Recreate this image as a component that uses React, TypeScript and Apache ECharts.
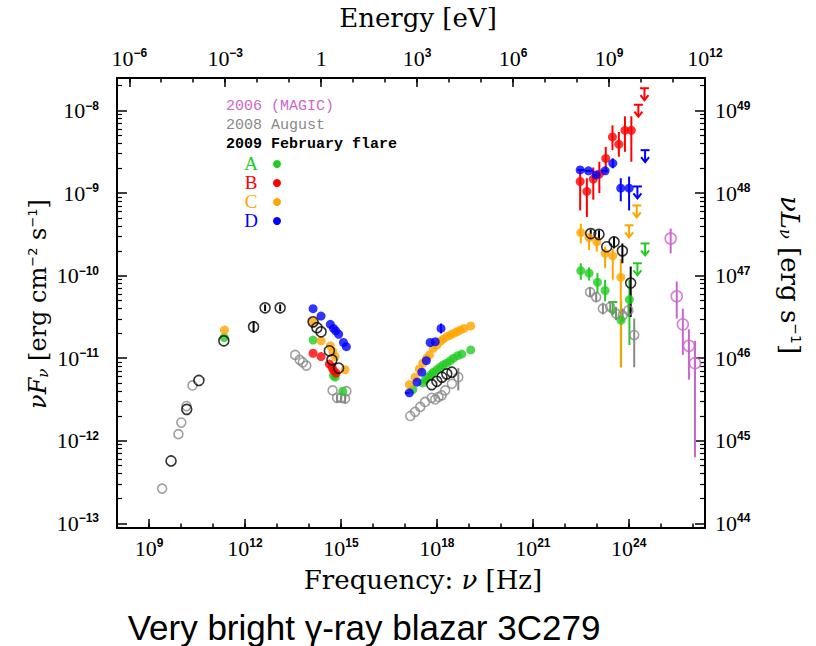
import React, { useEffect, useRef } from 'react';
import * as echarts from 'echarts';

// All values are log10: [log10 ν (Hz), log10 νFν (erg cm^-2 s^-1)]
// Error bars: [log10 ν, log10 upper, log10 lower]; upper limits: [log10 ν, log10 limit]

// 2008 August (gray, open circles)
const augustPts = [
  [9.41, -12.58], [9.92, -11.92], [10.01, -11.78], [10.17, -11.58], [10.36, -11.33],
  [13.57, -10.96], [13.71, -11.02], [13.81, -11.05], [13.92, -11.09],
  [14.74, -11.39], [14.88, -11.48], [15.01, -11.48], [15.13, -11.49], [15.17, -11.40],
  [17.17, -11.7], [17.32, -11.65], [17.48, -11.59], [17.63, -11.53], [17.84, -11.48],
  [17.95, -11.5], [18.05, -11.47], [18.15, -11.45], [18.26, -11.39], [18.47, -11.31], [18.67, -11.23],
  [22.79, -10.2], [22.98, -10.26], [23.19, -10.4], [23.42, -10.38], [23.6, -10.46],
  [23.81, -10.48], [23.99, -10.42], [24.17, -10.72],
];
const augustErr = [
  [14.88, -11.44, -11.54], [15.01, -11.43, -11.54], [15.13, -11.44, -11.55],
  [18.67, -11.12, -11.39],
  [22.79, -10.14, -10.26], [22.98, -10.2, -10.32], [23.19, -10.33, -10.47], [23.42, -10.31, -10.45],
  [23.6, -10.38, -10.54], [23.81, -10.4, -10.56], [23.99, -10.34, -10.5], [24.17, -10.52, -11.11],
];

// 2009 February flare (black, open circles)
const flarePts = [
  [9.69, -12.245], [10.18, -11.62], [10.56, -11.27], [11.34, -10.79], [12.27, -10.62], [12.63, -10.39], [13.1, -10.39],
  [14.13, -10.56], [14.25, -10.63], [14.38, -10.68], [14.64, -10.91], [14.72, -11.02], [14.93, -11.12],
  [17.84, -11.32], [18.0, -11.28], [18.16, -11.23], [18.31, -11.19], [18.47, -11.17],
  [22.81, -9.49], [23.07, -9.5], [23.31, -9.65], [23.54, -9.59], [23.8, -9.7], [24.06, -10.09],
];
const flareErr = [
  [12.27, -10.55, -10.69], [12.63, -10.35, -10.43], [13.1, -10.35, -10.43],
  [22.81, -9.44, -9.55], [23.07, -9.45, -9.56], [23.54, -9.53, -9.67], [23.8, -9.61, -9.85], [24.06, -9.89, -10.5],
];

// State A (green, filled)
const aPts = [
  [11.35, -10.75],
  [14.13, -10.78], [14.77, -11.21], [14.82, -11.23], [15.06, -11.4],
  [17.25, -11.38], [17.56, -11.3], [17.65, -11.26], [17.74, -11.23], [17.82, -11.2], [17.89, -11.17],
  [18.0, -11.14], [18.1, -11.11], [18.2, -11.08], [18.31, -11.06], [18.42, -11.03], [18.52, -11.0],
  [18.65, -10.97], [18.78, -10.95], [19.06, -10.9],
  [22.5, -9.94], [22.76, -9.97], [23.02, -10.08], [23.26, -10.18], [23.76, -10.54], [24.02, -10.29],
];
const aErr = [
  [22.5, -9.85, -10.05], [22.76, -9.9, -10.06], [23.02, -9.97, -10.21], [23.26, -10.05, -10.31],
  [23.76, -10.3, -11.11], [24.02, -10.05, -10.84],
];
const aUL = [[24.51, -9.61], [24.27, -9.85], [23.5, -10.32]];

// State B (red, filled)
const bPts = [
  [14.13, -10.94], [14.38, -10.98], [14.64, -11.07], [14.72, -11.11], [14.77, -11.15], [14.85, -11.18],
  [22.48, -8.86], [22.69, -8.98], [22.89, -8.83], [23.08, -8.77], [23.28, -8.58], [23.49, -8.32],
  [23.69, -8.41], [23.88, -8.24], [24.08, -8.24],
];
const bErr = [
  [22.48, -8.72, -9.21], [22.69, -8.82, -9.29], [22.89, -8.69, -9.08], [23.08, -8.62, -9.0],
  [23.28, -8.44, -8.76], [23.49, -8.18, -8.48], [23.69, -8.26, -8.56], [23.88, -8.07, -8.5], [24.08, -8.07, -8.62],
];
const bUL = [[24.3, -7.93], [24.49, -7.73]];

// State C (orange, filled)
const cPts = [
  [11.36, -10.66],
  [14.13, -10.56], [14.38, -10.79], [14.67, -10.85], [14.75, -10.92], [14.82, -10.98], [15.13, -11.14],
  [17.14, -11.32], [17.32, -11.23], [17.45, -11.13], [17.56, -11.06], [17.68, -11.0], [17.77, -10.96],
  [17.89, -10.88], [18.0, -10.84], [18.1, -10.8], [18.2, -10.77], [18.31, -10.74], [18.42, -10.72],
  [18.52, -10.7], [18.63, -10.68], [18.73, -10.66], [18.85, -10.64], [19.06, -10.61],
  [22.5, -9.48], [22.76, -9.54], [23.0, -9.59], [23.26, -9.73], [23.5, -9.76], [23.75, -10.02],
];
const cErr = [
  [22.5, -9.37, -9.61], [22.76, -9.49, -9.69], [23.0, -9.53, -9.71], [23.26, -9.65, -9.91],
  [23.5, -9.67, -10.05], [23.75, -9.8, -11.11],
];
const cUL = [[24.25, -9.15], [24.01, -9.39]];

// State D (blue, filled)
const dPts = [
  [14.13, -10.4], [14.38, -10.49], [14.67, -10.59], [14.77, -10.64], [14.84, -10.67], [14.93, -10.71],
  [15.08, -10.81], [15.17, -10.86],
  [17.14, -11.42], [17.38, -11.29], [17.53, -11.17], [17.67, -11.03], [17.79, -10.81], [17.95, -10.8], [18.13, -10.64],
  [22.48, -8.72], [22.74, -8.73], [22.98, -8.78], [23.26, -8.73], [23.5, -8.64], [23.75, -8.94], [24.01, -8.94],
];
const dErr = [[18.13, -10.58, -10.7], [23.5, -8.58, -8.7], [23.75, -8.82, -9.1], [24.01, -8.8, -9.21]];
// horizontal bars: [log10 ν low, log10 ν high, log10 νFν]
const dXErr = [[22.4, 22.6, -8.72], [22.62, 22.86, -8.73], [22.9, 23.1, -8.78], [23.14, 23.34, -8.73], [17.0, 17.14, -11.42]];
const dUL = [[24.27, -8.92], [24.51, -8.48]];

// 2006 MAGIC (violet, open circles)
const magicPts = [[25.31, -9.55], [25.5, -10.25], [25.69, -10.59], [25.88, -10.85], [26.07, -11.06]];
const magicErr = [
  [25.31, -9.43, -9.73], [25.5, -10.07, -10.52], [25.69, -10.4, -10.96], [25.88, -10.65, -11.26], [26.07, -10.79, -12.2],
];

// Axis ranges (log10) and ticks
const X_MIN = 8;
const X_MAX = 26.383;
const Y_MIN = -13.057;
const Y_MAX = -7.606;
const EV_OFFSET = 14.383; // log10(1 eV / h)
const LUM_OFFSET = 57; // log10(νLν / νFν)
const freqMajor = [9, 12, 15, 18, 21, 24];
const freqMinor = [9, 10, 11, 12, 13, 14, 15, 16, 17, 18, 19, 20, 21, 22, 23, 24, 25, 26];
const energyMajor = [-6, -3, 0, 3, 6, 9, 12];
const energyMinor = [-6, -5, -4, -3, -2, -1, 0, 1, 2, 3, 4, 5, 6, 7, 8, 9, 10, 11, 12];
const fluxMajor = [-13, -12, -11, -10, -9, -8];
const fluxMinorMult = [2, 3, 4, 5, 6, 7, 8, 9];

const COLORS = {
  magic: '#cc66cc',
  august: '#888888',
  flare: '#000000',
  A: '#22cc22',
  B: '#ff0000',
  C: '#ffa500',
  D: '#0000ff',
};

const fluxMinor: number[] = [];
for (let n = -14; n <= -8; n++) {
  for (const k of fluxMinorMult) {
    const v = n + Math.log10(k);
    if (v > Y_MIN && v < Y_MAX) fluxMinor.push(v);
  }
}

const supStr = (e: number) => (e < 0 ? '\u2212' + -e : String(e));
const powLabel = (e: number) => (e === 0 ? '{b|1}' : `{b|10}{s|${supStr(e)}}`);

const labelRich = {
  b: { fontFamily: 'Liberation Serif', fontSize: 22, color: '#000' },
  s: { fontFamily: 'Liberation Sans', fontWeight: 'bold', fontSize: 12, color: '#000', verticalAlign: 'top' },
};

const titleRich = {
  n: { fontFamily: 'DejaVu Serif', fontSize: 24, fill: '#000' },
  i: { fontFamily: 'DejaVu Serif', fontStyle: 'italic', fontSize: 24, fill: '#000' },
  sub: { fontFamily: 'DejaVu Serif', fontStyle: 'italic', fontSize: 15, fill: '#000', verticalAlign: 'bottom' },
  sup: { fontFamily: 'DejaVu Sans', fontSize: 13, fill: '#000', verticalAlign: 'top' },
};

function App() {
  const ref = useRef<HTMLDivElement>(null);
  useEffect(() => {
    if (!ref.current) return;
    const chart = echarts.init(ref.current, null, { renderer: 'svg' });

    const xBase = (position: string) => ({
      type: 'value',
      position,
      min: X_MIN,
      max: X_MAX,
      splitLine: { show: false },
      axisPointer: { show: false },
    });
    const yBase = (position: string) => ({
      type: 'value',
      position,
      min: Y_MIN,
      max: Y_MAX,
      splitLine: { show: false },
      axisPointer: { show: false },
    });
    const line = { show: true, onZero: false, lineStyle: { color: '#000', width: 2 } };

    const errSeries = (name: string, data: number[][], color: string) => ({
      type: 'custom',
      name,
      silent: true,
      data,
      encode: { x: 0, y: [1, 2] },
      renderItem: (_p: any, api: any) => {
        const a = api.coord([api.value(0), api.value(1)]);
        const b = api.coord([api.value(0), api.value(2)]);
        return {
          type: 'line',
          shape: { x1: a[0], y1: a[1], x2: b[0], y2: b[1] },
          style: { stroke: color, lineWidth: 2 },
        };
      },
      z: 2,
    });
    const xErrSeries = (name: string, data: number[][], color: string) => ({
      type: 'custom',
      name,
      silent: true,
      data,
      encode: { x: [0, 1], y: 2 },
      renderItem: (_p: any, api: any) => {
        const a = api.coord([api.value(0), api.value(2)]);
        const b = api.coord([api.value(1), api.value(2)]);
        return {
          type: 'line',
          shape: { x1: a[0], y1: a[1], x2: b[0], y2: b[1] },
          style: { stroke: color, lineWidth: 2 },
        };
      },
      z: 2,
    });
    const ulSeries = (name: string, data: number[][], color: string) => ({
      type: 'custom',
      name,
      silent: true,
      data,
      encode: { x: 0, y: 1 },
      renderItem: (_p: any, api: any) => {
        const p = api.coord([api.value(0), api.value(1)]);
        const st = { stroke: color, lineWidth: 2, fill: 'none' };
        return {
          type: 'group',
          children: [
            { type: 'line', shape: { x1: p[0] - 4.5, y1: p[1], x2: p[0] + 4.5, y2: p[1] }, style: st },
            { type: 'line', shape: { x1: p[0], y1: p[1], x2: p[0], y2: p[1] + 12 }, style: st },
            {
              type: 'polyline',
              shape: { points: [[p[0] - 4, p[1] + 7], [p[0], p[1] + 12], [p[0] + 4, p[1] + 7]] },
              style: st,
            },
          ],
        };
      },
      z: 3,
    });
    const openSeries = (name: string, data: number[][], color: string, size = 10) => ({
      type: 'scatter',
      name,
      silent: true,
      data,
      symbol: 'circle',
      symbolSize: size,
      itemStyle: { color: 'rgba(255,255,255,0)', borderColor: color, borderWidth: 1.6 },
      z: 4,
    });
    const fillSeries = (name: string, data: number[][], color: string) => ({
      type: 'scatter',
      name,
      silent: true,
      data,
      symbol: 'circle',
      symbolSize: 9,
      itemStyle: { color, borderWidth: 0 },
      z: 4,
    });

    const legendText = (text: string, y: number, color: string, bold = false) => ({
      type: 'text',
      x: 226,
      y,
      style: {
        text,
        fill: color,
        font: `${bold ? 'bold ' : ''}15px "Liberation Mono", monospace`,
        verticalAlign: 'middle',
      },
    });
    const legendLetter = (text: string, y: number, color: string) => [
      {
        type: 'text',
        x: 251,
        y,
        style: { text, fill: color, font: '19px "Liberation Serif", serif', verticalAlign: 'middle', align: 'center' },
      },
      { type: 'circle', shape: { cx: 277, cy: y + 1, r: 4 }, style: { fill: color } },
    ];

    chart.setOption({
      animation: false,
      backgroundColor: '#fff',
      grid: { left: 117, right: 111, top: 78, bottom: 118, show: false },
      xAxis: [
        {
          ...xBase('bottom'),
          axisLine: line,
          axisTick: { show: true, inside: true, length: 9, customValues: freqMajor, lineStyle: { color: '#000', width: 1.5 } },
          axisLabel: { show: true, customValues: freqMajor, margin: 9, formatter: (v: number) => powLabel(Math.round(v)), rich: labelRich },
        },
        {
          ...xBase('bottom'),
          axisLine: { show: false },
          axisTick: { show: true, inside: true, length: 4.5, customValues: freqMinor, lineStyle: { color: '#000', width: 1.5 } },
          axisLabel: { show: false },
        },
        {
          ...xBase('top'),
          axisLine: line,
          axisTick: { show: true, inside: true, length: 9, customValues: energyMajor.map((e) => e + EV_OFFSET), lineStyle: { color: '#000', width: 1.5 } },
          axisLabel: {
            show: true,
            customValues: energyMajor.map((e) => e + EV_OFFSET),
            margin: 9,
            formatter: (v: number) => powLabel(Math.round(v - EV_OFFSET)),
            rich: labelRich,
          },
        },
        {
          ...xBase('top'),
          axisLine: { show: false },
          axisTick: { show: true, inside: true, length: 4.5, customValues: energyMinor.map((e) => e + EV_OFFSET), lineStyle: { color: '#000', width: 1.5 } },
          axisLabel: { show: false },
        },
      ],
      yAxis: [
        {
          ...yBase('left'),
          axisLine: line,
          axisTick: { show: true, inside: true, length: 10, customValues: fluxMajor, lineStyle: { color: '#000', width: 1.5 } },
          axisLabel: { show: true, customValues: fluxMajor, margin: 18, formatter: (v: number) => powLabel(Math.round(v)), rich: labelRich },
        },
        {
          ...yBase('left'),
          axisLine: { show: false },
          axisTick: { show: true, inside: true, length: 5, customValues: fluxMinor, lineStyle: { color: '#000', width: 1.2 } },
          axisLabel: { show: false },
        },
        {
          ...yBase('right'),
          axisLine: line,
          axisTick: { show: true, inside: true, length: 10, customValues: fluxMajor, lineStyle: { color: '#000', width: 1.5 } },
          axisLabel: {
            show: true,
            customValues: fluxMajor,
            margin: 10,
            formatter: (v: number) => powLabel(Math.round(v) + LUM_OFFSET),
            rich: labelRich,
          },
        },
        {
          ...yBase('right'),
          axisLine: { show: false },
          axisTick: { show: true, inside: true, length: 5, customValues: fluxMinor, lineStyle: { color: '#000', width: 1.2 } },
          axisLabel: { show: false },
        },
      ],
      series: [
        errSeries('augErr', augustErr, COLORS.august),
        openSeries('2008 August', augustPts, COLORS.august, 9),
        errSeries('aErr', aErr, COLORS.A),
        fillSeries('A', aPts, COLORS.A),
        ulSeries('aUL', aUL, COLORS.A),
        errSeries('bErr', bErr, COLORS.B),
        fillSeries('B', bPts, COLORS.B),
        ulSeries('bUL', bUL, COLORS.B),
        errSeries('cErr', cErr, COLORS.C),
        fillSeries('C', cPts, COLORS.C),
        ulSeries('cUL', cUL, COLORS.C),
        errSeries('dErr', dErr, COLORS.D),
        xErrSeries('dXErr', dXErr, COLORS.D),
        fillSeries('D', dPts, COLORS.D),
        ulSeries('dUL', dUL, COLORS.D),
        errSeries('flareErr', flareErr, COLORS.flare),
        openSeries('2009 February flare', flarePts, COLORS.flare, 10),
        errSeries('magicErr', magicErr, COLORS.magic),
        openSeries('2006 (MAGIC)', magicPts, COLORS.magic, 11),
      ],
      graphic: [
        {
          type: 'text',
          x: 418,
          y: 18,
          style: { text: 'Energy [eV]', font: '26px "DejaVu Serif", serif', fill: '#000', align: 'center', verticalAlign: 'middle' },
        },
        {
          type: 'text',
          x: 423,
          y: 580,
          style: {
            text: '{n|Frequency: }{i|ν}{n| [Hz]}',
            align: 'center',
            verticalAlign: 'middle',
            rich: {
              n: { fontFamily: 'DejaVu Serif', fontSize: 26, fill: '#000' },
              i: { fontFamily: 'DejaVu Serif', fontStyle: 'italic', fontSize: 26, fill: '#000' },
            },
          },
        },
        {
          type: 'text',
          x: 38,
          y: 304,
          rotation: Math.PI / 2,
          style: {
            text: '{i|νF}{sub|ν}{n| [erg cm}{sup|\u22122}{n| s}{sup|\u22121}{n|]}',
            align: 'center',
            verticalAlign: 'middle',
            rich: titleRich,
          },
        },
        {
          type: 'text',
          x: 790,
          y: 275,
          rotation: -Math.PI / 2,
          style: {
            text: '{i|νL}{sub|ν}{n| [erg s}{sup|\u22121}{n|]}',
            align: 'center',
            verticalAlign: 'middle',
            rich: {
              n: { fontFamily: 'DejaVu Serif', fontSize: 26, fill: '#000' },
              i: { fontFamily: 'DejaVu Serif', fontStyle: 'italic', fontSize: 26, fill: '#000' },
              sub: { fontFamily: 'DejaVu Serif', fontStyle: 'italic', fontSize: 16, fill: '#000', verticalAlign: 'bottom' },
              sup: { fontFamily: 'DejaVu Sans', fontSize: 14, fill: '#000', verticalAlign: 'top' },
            },
          },
        },
        {
          type: 'text',
          x: 364,
          y: 627,
          style: {
            text: 'Very bright γ-ray blazar 3C279',
            font: '35px "Liberation Sans", Arial, sans-serif',
            fill: '#000',
            align: 'center',
            verticalAlign: 'middle',
          },
        },
        legendText('2006 (MAGIC)', 106, COLORS.magic),
        legendText('2008 August', 125, COLORS.august),
        legendText('2009 February flare', 144, COLORS.flare, true),
        ...legendLetter('A', 163, COLORS.A),
        ...legendLetter('B', 182, COLORS.B),
        ...legendLetter('C', 201, COLORS.C),
        ...legendLetter('D', 220, COLORS.D),
      ],
    });
    return () => chart.dispose();
  }, []);
  return <div ref={ref} style={{ position: 'fixed', left: 0, top: 0, width: 816, height: 646 }} />;
}

export default App;
